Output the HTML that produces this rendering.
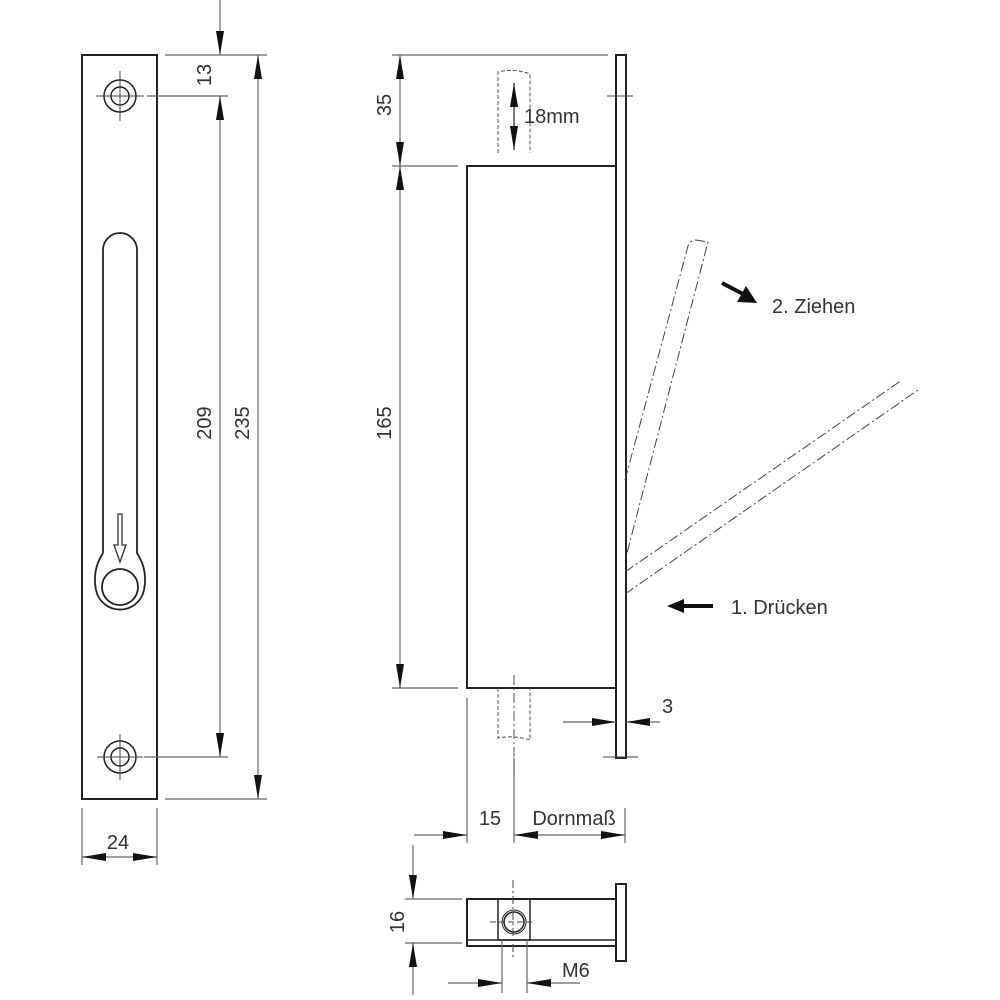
<!DOCTYPE html>
<html><head><meta charset="utf-8"><style>
html,body{margin:0;padding:0;background:#fff;}
svg{display:block}
text{font-family:"Liberation Sans",sans-serif;fill:#333;font-size:20px}
</style></head><body>
<svg width="1000" height="1000" viewBox="0 0 1000 1000" xmlns="http://www.w3.org/2000/svg">
<defs>
<marker id="a" viewBox="0 0 24 8" refX="24" refY="4" markerWidth="24" markerHeight="8" markerUnits="userSpaceOnUse" orient="auto"><path d="M0,0 L24,4 L0,8z" fill="#111"/></marker>
</defs>
<g fill="none" stroke="#222" stroke-width="2">
<rect x="82" y="55" width="75" height="744"/>
<circle cx="120" cy="96" r="16" stroke-width="1.5"/><circle cx="120" cy="96" r="9" stroke-width="1.5"/>
<circle cx="120" cy="757" r="16" stroke-width="1.5"/><circle cx="120" cy="757" r="9" stroke-width="1.5"/>
<path d="M103,553 L103,250 A17,17 0 0 1 137,250 L137,553 Q148,570 144,590 A24.5,24.5 0 0 1 96,590 Q92,570 103,553" stroke-width="1.8"/>
<circle cx="120" cy="587" r="18" stroke-width="1.8"/>
<rect x="616" y="55" width="10" height="703"/>
<rect x="467" y="166" width="149" height="522"/>
<rect x="467" y="899" width="149" height="47"/>
<line x1="467" y1="940" x2="616" y2="940" stroke-width="1.5"/>
<rect x="616" y="884" width="10" height="77"/>
<rect x="498" y="899" width="32" height="41" stroke-width="1.5"/>
<circle cx="514" cy="922" r="10" stroke-width="1.5"/><circle cx="514" cy="922" r="12" stroke-width="1"/>
</g>
<g stroke="#444" stroke-width="1">
<line x1="96" y1="96" x2="144" y2="96"/><line x1="120" y1="71" x2="120" y2="121"/>
<line x1="97" y1="757" x2="143" y2="757"/><line x1="120" y1="734" x2="120" y2="780"/>
<line x1="607" y1="96" x2="633" y2="96"/><line x1="603" y1="757" x2="638" y2="757"/>
<line x1="513" y1="880" x2="513" y2="960" stroke-dasharray="8,3,2,3"/>
<line x1="490" y1="922" x2="534" y2="922" stroke-dasharray="6,3"/>
</g>
<path d="M118,514 L122,514 L122,545 L126,545 L120,562 L114,545 L118,545z" fill="none" stroke="#333" stroke-width="1.3"/>
<g stroke="#666" stroke-width="1.2" fill="none">
<line x1="165" y1="55" x2="267" y2="55"/>
<line x1="147" y1="96" x2="228" y2="96"/>
<line x1="144" y1="757" x2="228" y2="757"/>
<line x1="165" y1="799" x2="267" y2="799"/>
<line x1="220" y1="0" x2="220" y2="55" marker-end="url(#a)"/>
<line x1="220" y1="400" x2="220" y2="96" marker-end="url(#a)"/>
<line x1="220" y1="400" x2="220" y2="757" marker-end="url(#a)"/>
<line x1="258" y1="400" x2="258" y2="55" marker-end="url(#a)"/>
<line x1="258" y1="400" x2="258" y2="799" marker-end="url(#a)"/>
<line x1="82" y1="808" x2="82" y2="865"/><line x1="157" y1="808" x2="157" y2="865"/>
<line x1="120" y1="857" x2="82" y2="857" marker-end="url(#a)"/>
<line x1="120" y1="857" x2="157" y2="857" marker-end="url(#a)"/>
<line x1="392" y1="55" x2="608" y2="55"/>
<line x1="392" y1="166" x2="458" y2="166"/>
<line x1="392" y1="688" x2="458" y2="688"/>
<line x1="400" y1="110" x2="400" y2="55" marker-end="url(#a)"/>
<line x1="400" y1="110" x2="400" y2="166" marker-end="url(#a)"/>
<line x1="400" y1="420" x2="400" y2="166" marker-end="url(#a)"/>
<line x1="400" y1="420" x2="400" y2="688" marker-end="url(#a)"/>
<line x1="467" y1="698" x2="467" y2="843"/>
<line x1="514" y1="758" x2="514" y2="843"/>
<line x1="625" y1="808" x2="625" y2="843"/>
<line x1="414" y1="835" x2="467" y2="835" marker-end="url(#a)"/>
<line x1="570" y1="835" x2="514" y2="835" marker-end="url(#a)"/>
<line x1="570" y1="835" x2="625" y2="835" marker-end="url(#a)"/>
<line x1="563" y1="722" x2="616" y2="722" marker-end="url(#a)"/>
<line x1="660" y1="722" x2="626" y2="722" marker-end="url(#a)"/>
<line x1="405" y1="899" x2="462" y2="899"/>
<line x1="405" y1="943" x2="462" y2="943"/>
<line x1="413" y1="845" x2="413" y2="899" marker-end="url(#a)"/>
<line x1="413" y1="995" x2="413" y2="943" marker-end="url(#a)"/>
<line x1="502" y1="940" x2="502" y2="993"/><line x1="527" y1="940" x2="527" y2="993"/>
<line x1="448" y1="983" x2="502" y2="983" marker-end="url(#a)"/>
<line x1="580" y1="983" x2="527" y2="983" marker-end="url(#a)"/>
</g>
<g stroke="#555" stroke-width="1" fill="none" stroke-dasharray="4,2">
<path d="M498,153 L498,72 Q514,68 530,74 L530,153"/>
<path d="M498,688 L498,738 Q514,735 530,740 L530,688"/>
<line x1="514" y1="675" x2="514" y2="780" stroke-dasharray="10,3,2,3"/>
</g>
<g stroke="#222" stroke-width="1.2">
<line x1="514" y1="116" x2="514" y2="83" marker-end="url(#a)"/>
<line x1="514" y1="116" x2="514" y2="150" marker-end="url(#a)"/>
</g>
<g stroke="#444" stroke-width="1" fill="none" stroke-dasharray="10,3,2,3">
<path d="M625,480 L688,246 Q690,240 696,240 L708,242 L627,553"/>
<line x1="625" y1="572" x2="902" y2="380"/>
<line x1="625" y1="594" x2="918" y2="390"/>
</g>
<g stroke="#111" stroke-width="4">
<line x1="722" y1="283" x2="745" y2="295"/>
<line x1="713" y1="606" x2="683" y2="606"/>
</g>
<path d="M757,303 L737,302 L746,286z" fill="#111"/>
<path d="M667,606 L684,599 L684,613z" fill="#111"/>
<text x="118" y="849" text-anchor="middle">24</text>
<text transform="translate(211,75) rotate(-90)" text-anchor="middle">13</text>
<text transform="translate(211,423) rotate(-90)" text-anchor="middle">209</text>
<text transform="translate(249,423) rotate(-90)" text-anchor="middle">235</text>
<text transform="translate(391,105) rotate(-90)" text-anchor="middle">35</text>
<text transform="translate(391,423) rotate(-90)" text-anchor="middle">165</text>
<text transform="translate(404,922) rotate(-90)" text-anchor="middle">16</text>
<text x="524" y="123">18mm</text>
<text x="490" y="825" text-anchor="middle">15</text>
<text x="574" y="825" text-anchor="middle">Dornmaß</text>
<text x="662" y="713">3</text>
<text x="562" y="977">M6</text>
<text x="772" y="313">2. Ziehen</text>
<text x="731" y="614">1. Drücken</text>
</svg>
</body></html>
